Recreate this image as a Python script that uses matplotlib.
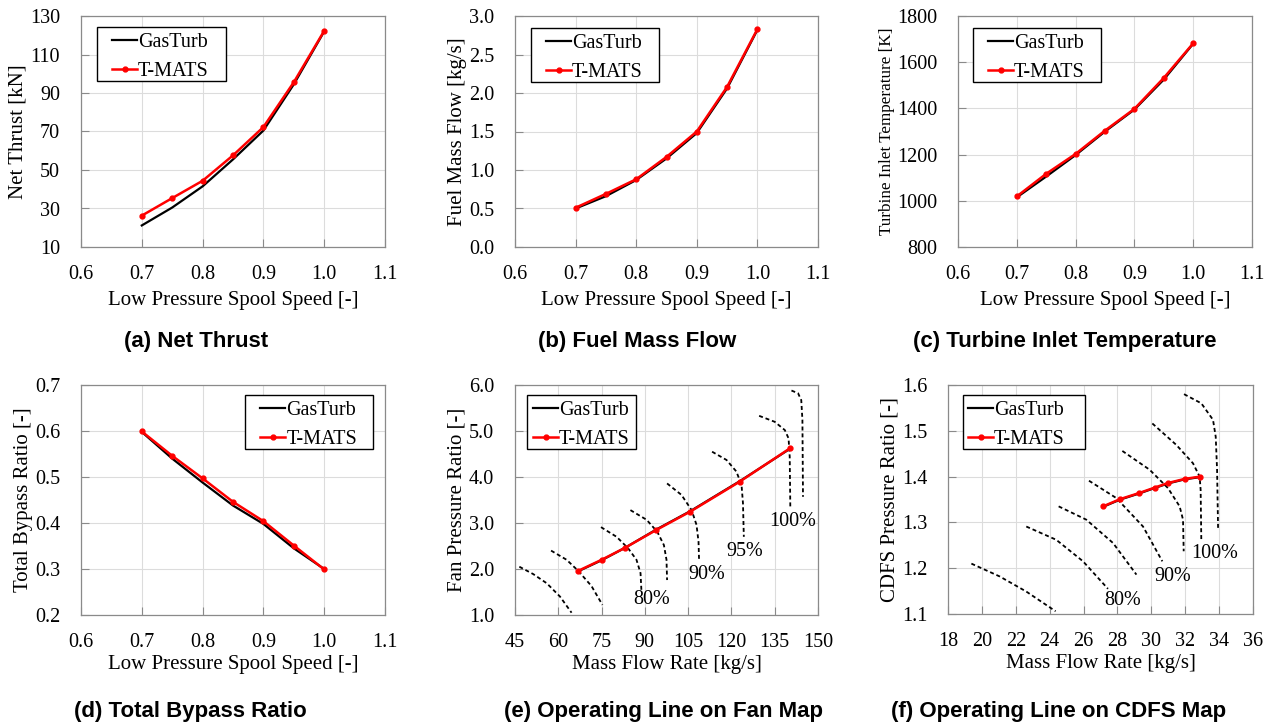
import numpy as np
import matplotlib

matplotlib.use("Agg")
import matplotlib.pyplot as plt
from matplotlib.patches import Rectangle
from matplotlib.transforms import IdentityTransform

plt.rcParams.update({
    "font.family": "Liberation Serif",
    "font.size": 14,
    "axes.edgecolor": "#8a8a8a",
    "axes.linewidth": 0.9,
})

W, H = 1272, 726

# ---- data ------------------------------------------------------------------
speed = [0.70, 0.75, 0.80, 0.85, 0.90, 0.95, 1.00]

thrust_gt = [21.2, 30.5, 41.5, 55.5, 70.5, 94.5, 122.0]
thrust_tm = [26.3, 35.4, 44.4, 57.6, 72.3, 95.6, 122.3]

fuel_gt = [0.50, 0.66, 0.87, 1.15, 1.48, 2.06, 2.82]
fuel_tm = [0.51, 0.69, 0.88, 1.17, 1.50, 2.08, 2.83]

tit_gt = [1015, 1105, 1198, 1300, 1395, 1525, 1680]
tit_tm = [1019, 1117, 1203, 1304, 1398, 1532, 1682]

bpr_gt = [0.598, 0.540, 0.488, 0.438, 0.398, 0.345, 0.300]
bpr_tm = [0.599, 0.546, 0.497, 0.446, 0.404, 0.351, 0.299]

fan_w_tm = [66.9, 75.0, 83.1, 94.0, 105.8, 122.9, 140.2]
fan_pr_tm = [1.96, 2.20, 2.46, 2.85, 3.25, 3.90, 4.62]
fan_w_gt = [66.9, 75.0, 83.1, 94.0, 105.8, 122.9, 140.2]
fan_pr_gt = [1.95, 2.19, 2.46, 2.86, 3.26, 3.91, 4.61]

# fan map speed lines (mass flow, pressure ratio)
fan_lines = [
    ([46.5, 51.3, 56.0, 60.6, 64.6], [2.05, 1.89, 1.69, 1.40, 1.05]),
    ([57.5, 62.9, 66.9, 71.5, 75.3], [2.40, 2.20, 1.96, 1.63, 1.22]),
    ([74.8, 80.2, 84.2, 87.1, 88.5, 88.8], [2.91, 2.70, 2.45, 2.20, 1.91, 1.54]),
    ([85.0, 90.6, 94.3, 96.6, 97.5, 97.7], [3.28, 3.07, 2.81, 2.52, 2.20, 1.76]),
    ([97.7, 102.7, 106.2, 107.9, 108.6, 108.8], [3.86, 3.61, 3.28, 2.96, 2.59, 2.16]),
    ([113.3, 118.3, 121.7, 123.5, 124.0, 124.3], [4.55, 4.37, 4.12, 3.83, 3.43, 2.70]),
    ([129.6, 135.0, 138.5, 139.8, 140.2, 140.4], [5.33, 5.20, 5.02, 4.84, 4.44, 3.36]),
    ([140.8, 143.1, 144.2, 144.6, 144.8], [5.88, 5.82, 5.67, 5.24, 3.57]),
]
fan_labels = ["80%", "90%", "95%", "100%"]
fan_label_w = [92.3, 111.3, 124.6, 141.3]
fan_label_pr = [1.33, 1.89, 2.38, 3.03]

cdfs_w_tm = [27.15, 28.17, 29.27, 30.20, 30.98, 31.97, 32.89]
cdfs_pr_tm = [1.335, 1.351, 1.364, 1.376, 1.386, 1.395, 1.400]
cdfs_w_gt = [27.15, 28.17, 29.27, 30.20, 30.98, 31.97, 32.89]
cdfs_pr_gt = [1.334, 1.350, 1.363, 1.375, 1.385, 1.394, 1.399]

cdfs_lines = [
    ([19.38, 21.05, 22.62, 24.35], [1.210, 1.182, 1.149, 1.106]),
    ([22.62, 24.39, 25.97, 27.44], [1.291, 1.262, 1.215, 1.155]),
    ([24.53, 26.16, 27.74, 29.12], [1.335, 1.306, 1.255, 1.186]),
    ([26.32, 27.94, 29.51, 30.65], [1.391, 1.353, 1.291, 1.215]),
    ([28.29, 29.90, 30.98, 31.67, 31.87, 31.91], [1.456, 1.415, 1.375, 1.335, 1.306, 1.237]),
    ([30.06, 31.48, 32.46, 32.85, 32.91, 32.95], [1.516, 1.469, 1.429, 1.400, 1.371, 1.258]),
    ([31.93, 32.95, 33.64, 33.80, 33.88, 33.94], [1.580, 1.560, 1.524, 1.487, 1.415, 1.284]),
]
cdfs_labels = ["80%", "90%", "100%"]
cdfs_label_w = [28.33, 31.28, 33.74]
cdfs_label_pr = [1.130, 1.182, 1.232]

captions = ["(a) Net Thrust", "(b) Fuel Mass Flow", "(c) Turbine Inlet Temperature",
            "(d) Total Bypass Ratio", "(e) Operating Line on Fan Map",
            "(f) Operating Line on CDFS Map"]
caption_x = [196, 637, 1065, 190, 664, 1059]
caption_y = [341, 341, 341, 712, 712, 712]

legends = []  # (ax, legend, lpad, rpad, tpad, bpad) -> framed after first draw


def px_axes(fig, l, t, r, b):
    return fig.add_axes([l / W, 1 - b / H, (r - l) / W, (b - t) / H])


def style(ax, xlim, xticks, ylim, yticks, fmt_x, fmt_y):
    ax.set_xlim(*xlim)
    ax.set_ylim(*ylim)
    ax.set_xticks(xticks)
    ax.set_yticks(yticks)
    ax.set_xticklabels([fmt_x.format(v) for v in xticks])
    ax.set_yticklabels([fmt_y.format(v) for v in yticks])
    ax.grid(True, color="#dcdcdc", linewidth=0.8)
    ax.set_axisbelow(True)
    ax.tick_params(direction="in", length=6, color="#8a8a8a", labelsize=14.5)
    ax.tick_params(axis="x", pad=13)
    ax.tick_params(axis="y", pad=15)


def pair(ax, x_gt, y_gt, x_tm, y_tm, side, dx, dy, lpad, rpad, tpad=6, bpad=0):
    ax.plot(x_gt, y_gt, color="black", lw=1.6, label="GasTurb", zorder=3)
    ax.plot(x_tm, y_tm, color="#ff0000", lw=1.8, marker="o", ms=3.5,
            label="T-MATS", zorder=4)
    bb = ax.get_position()
    aw, ah = bb.width * W, bb.height * H
    if side == "left":
        loc, ax_x = "upper left", (dx + lpad) / aw
    else:
        loc, ax_x = "upper right", 1 - (dx + rpad) / aw
    leg = ax.legend(loc=loc, bbox_to_anchor=(ax_x, 1 - (dy + tpad) / ah),
                    fontsize=14.5, frameon=False, handlelength=1.25,
                    handletextpad=0.05, borderpad=0, borderaxespad=0,
                    labelspacing=0.5)
    leg.set_zorder(6)
    legends.append((ax, leg, lpad, rpad, tpad, bpad))


def labels(ax, xl, yl, ysize=15, xpad=5):
    ax.set_xlabel(xl, fontsize=15, labelpad=xpad)
    ax.set_ylabel(yl, fontsize=ysize, labelpad=1.5)


fig = plt.figure(figsize=(W / 100, H / 100), dpi=100)

spd_ticks = [0.6, 0.7, 0.8, 0.9, 1.0, 1.1]
xlab = "Low Pressure Spool Speed [-]"

ax = px_axes(fig, 81, 16, 385, 247)
style(ax, (0.6, 1.1), spd_ticks, (10, 130), list(range(10, 131, 20)), "{:.1f}", "{:d}")
pair(ax, speed, thrust_gt, speed, thrust_tm, "left", 16, 11, 15, 17)
labels(ax, xlab, "Net Thrust [kN]")

ax = px_axes(fig, 515, 16, 818, 247)
style(ax, (0.6, 1.1), spd_ticks, (0, 3), [0, 0.5, 1.0, 1.5, 2.0, 2.5, 3.0], "{:.1f}", "{:.1f}")
pair(ax, speed, fuel_gt, speed, fuel_tm, "left", 16, 12, 15, 16)
labels(ax, xlab, "Fuel Mass Flow [kg/s]")

ax = px_axes(fig, 958, 16, 1252, 247)
style(ax, (0.6, 1.1), spd_ticks, (800, 1800), list(range(800, 1801, 200)), "{:.1f}", "{:d}")
pair(ax, speed, tit_gt, speed, tit_tm, "left", 15, 12, 15, 16)
labels(ax, xlab, "Turbine Inlet Temperature [K]", ysize=12.3)

ax = px_axes(fig, 81, 385, 385, 615)
style(ax, (0.6, 1.1), spd_ticks, (0.2, 0.7), [0.2, 0.3, 0.4, 0.5, 0.6, 0.7], "{:.1f}", "{:.1f}")
pair(ax, speed, bpr_gt, speed, bpr_tm, "right", 12, 10, 15, 16)
labels(ax, xlab, "Total Bypass Ratio [-]", xpad=2)

ax = px_axes(fig, 515, 385, 818, 615)
style(ax, (45, 150), list(range(45, 151, 15)), (1.0, 6.0),
      [1.0, 2.0, 3.0, 4.0, 5.0, 6.0], "{:d}", "{:.1f}")
for xs, ys in fan_lines:
    ax.plot(xs, ys, color="black", lw=1.3, ls=(0, (2.2, 1.6)), zorder=2)
for t, xv, yv in zip(fan_labels, fan_label_w, fan_label_pr):
    ax.text(xv, yv, t, ha="center", va="center", fontsize=14.5)
pair(ax, fan_w_gt, fan_pr_gt, fan_w_tm, fan_pr_tm, "left", 12, 10, 6, 6)
labels(ax, "Mass Flow Rate [kg/s]", "Fan Pressure Ratio [-]", xpad=2)

ax = px_axes(fig, 948, 385, 1253, 614)
style(ax, (18, 36), list(range(18, 37, 2)), (1.1, 1.6),
      [1.1, 1.2, 1.3, 1.4, 1.5, 1.6], "{:d}", "{:.1f}")
for xs, ys in cdfs_lines:
    ax.plot(xs, ys, color="black", lw=1.3, ls=(0, (2.2, 1.6)), zorder=2)
for t, xv, yv in zip(cdfs_labels, cdfs_label_w, cdfs_label_pr):
    ax.text(xv, yv, t, ha="center", va="center", fontsize=14.5)
pair(ax, cdfs_w_gt, cdfs_pr_gt, cdfs_w_tm, cdfs_pr_tm, "left", 15, 10, 5, 20)
labels(ax, "Mass Flow Rate [kg/s]", "CDFS Pressure Ratio [-]", xpad=2)

for t, xv, yv in zip(captions, caption_x, caption_y):
    fig.text(xv / W, 1 - yv / H, t, ha="center", va="center", fontsize=16,
             fontweight="bold", family="Liberation Sans")

# legend frames with uneven padding, sized from the rendered legend
fig.canvas.draw()
renderer = fig.canvas.get_renderer()
for ax, leg, lpad, rpad, tpad, bpad in legends:
    lb = leg.get_window_extent(renderer)
    ax.add_patch(Rectangle((lb.x0 - lpad, lb.y0 - bpad),
                           lb.width + lpad + rpad, lb.height + tpad + bpad,
                           transform=IdentityTransform(), facecolor="white",
                           edgecolor="black", linewidth=1.0, zorder=5,
                           clip_on=False))

fig.savefig("out.png", dpi=100)
